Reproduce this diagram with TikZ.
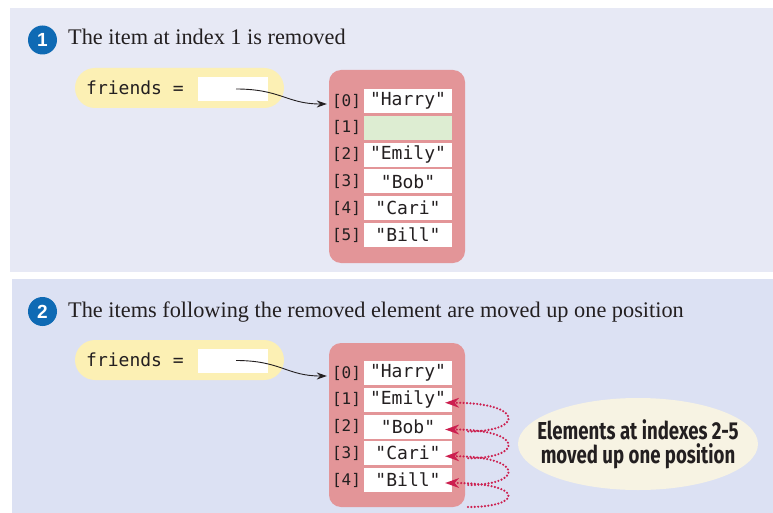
\documentclass[tikz,border=0pt]{standalone}
\usepackage{fontspec}
\setmainfont{Liberation Serif}
\newfontfamily\codefont{DejaVu Sans Mono}
\newfontfamily\notefont[FakeStretch=0.76]{Fira Sans}
\newfontfamily\numfont{Liberation Sans}
\usetikzlibrary{arrows.meta,shapes.geometric}
\definecolor{bgone}{HTML}{E7E9F5}
\definecolor{bgtwo}{HTML}{DCE1F3}
\definecolor{pillc}{HTML}{FCF0B4}
\definecolor{arrc}{HTML}{E39598}
\definecolor{greenc}{HTML}{DDEDD2}
\definecolor{bluec}{HTML}{0F6AB4}
\definecolor{crim}{HTML}{CC1F4F}
\definecolor{notec}{HTML}{F7F3E3}
\definecolor{ink}{HTML}{231F20}
\begin{document}
\begin{tikzpicture}[x=1pt,y=-1pt,
  stepnum/.style={circle,fill=bluec,minimum size=29pt,inner sep=0pt,text=white,font=\numfont\bfseries\fontsize{19}{19}\selectfont},
  title/.style={inner sep=0pt,text=ink,font=\fontsize{22.3}{24}\selectfont},
  pill/.style={fill=pillc,rounded corners=20pt,minimum width=209pt,minimum height=40pt,inner sep=0pt},
  codetxt/.style={inner sep=0pt,text=ink,font=\codefont\fontsize{18}{18}\selectfont},
  refbox/.style={fill=white,minimum width=70pt,minimum height=24pt,inner sep=0pt},
  arr/.style={fill=arrc,rounded corners=12pt,minimum width=136pt,inner sep=0pt},
  cell/.style={fill=white,minimum width=88pt,minimum height=24pt,inner sep=0pt,text=ink,font=\codefont\fontsize{18}{18}\selectfont},
  idx/.style={inner sep=0pt,text=ink,font=\codefont\fontsize{16}{16}\selectfont},
  ptr/.style={draw=ink,line width=0.9pt,-{Stealth[length=10pt,width=7pt]}},
  mv/.style={draw=crim,line width=2.4pt,dash pattern=on 0pt off 3.4pt,line cap=round,-{Stealth[length=14pt,width=10pt,fill=crim,line width=0pt]}},
  note/.style={ellipse,fill=notec,minimum width=240pt,minimum height=92pt,inner xsep=-40pt,inner ysep=0pt,align=center,text=ink,font=\notefont\bfseries\fontsize{24.5}{24}\selectfont}
]
\useasboundingbox (0,0) rectangle (773,513);
\fill[bgone] (10,8) rectangle (773,272);
\fill[bgtwo] (12,279) rectangle (773,513);

% ---------- panel 1
\node[stepnum] (n1) at (42.5,40) {1};
\node[title,anchor=base west] (t1) at (68,45) {The item at index 1 is removed};
\node[pill] (p1) at (179.5,88) {};
\node[codetxt,anchor=west] (f1) at (86,88) {friends =};
\node[refbox] (r1) at (233,89) {};
\node[arr,minimum height=193pt] (a1) at (397,166.5) {};
\foreach \i/\t in {0/"Harry",1/,2/"Emily",3/"Bob",4/"Cari",5/"Bill"}{
  \node[cell] (c1-\i) at (408,101+26.8*\i) {\t};
  \node[idx] (i1-\i) at (346.5,101+26.8*\i) {[\i]};
}
\fill[greenc] (c1-1.south west) rectangle (c1-1.north east);
\draw[ptr] ([xshift=3pt]r1.center) .. controls +(45,0) and +(-40,0) .. ([shift={(-2,3)}]a1.west |- c1-0);

% ---------- panel 2
\node[stepnum] (n2) at (42.5,311.5) {2};
\node[title,anchor=base west] (t2) at (68,317) {The items following the removed element are moved up one position};
\node[pill] (p2) at (179.5,360) {};
\node[codetxt,anchor=west] (f2) at (86,360) {friends =};
\node[refbox] (r2) at (233,360.5) {};
\node[arr,minimum height=164pt] (a2) at (397,425) {};
\foreach \i/\t in {0/"Harry",1/"Emily",2/"Bob",3/"Cari",4/"Bill"}{
  \node[cell] (c2-\i) at (408,373+26.75*\i) {\t};
  \node[idx] (i2-\i) at (346.5,373+26.75*\i) {[\i]};
}
\coordinate (c2-5) at (452,502);
\draw[ptr] ([xshift=3pt]r2.center) .. controls +(45,0) and +(-40,0) .. ([shift={(-2,3)}]a2.west |- c2-0);
\foreach \a/\b in {2/1,3/2,4/3,5/4}{
  \draw[mv] ([shift={(16,5)}]c2-\a.east) .. controls +(56,0) and +(79,0) .. ([shift={(-7,3)}]c2-\b.east);
}
\node[note] (nt) at (638,444) {Elements at indexes 2-5\\moved up one position};
\end{tikzpicture}
\end{document}
